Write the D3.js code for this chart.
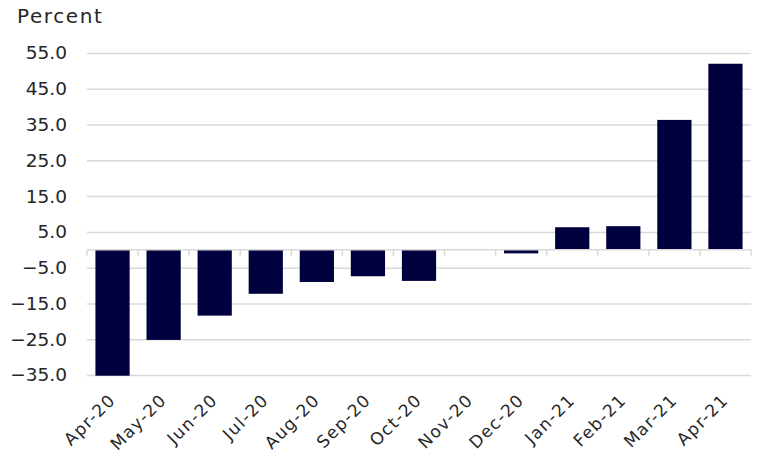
<!DOCTYPE html>
<html>
<head>
<meta charset="utf-8">
<script src="https://cdn.jsdelivr.net/npm/d3@7"></script>
<style>
  body { margin: 0; background: #fff; }
  svg text { font-family: "DejaVu Sans", sans-serif; fill: #262626; }
</style>
</head>
<body>
<svg id="chart" width="758" height="457"></svg>
<script>
const months = ["Apr-20", "May-20", "Jun-20", "Jul-20", "Aug-20", "Sep-20", "Oct-20",
  "Nov-20", "Dec-20", "Jan-21", "Feb-21", "Mar-21", "Apr-21"];
const values = [-35.2, -25.2, -18.4, -12.3, -9.0, -7.4, -8.7, 0.0, -1.0, 6.3, 6.6, 36.3, 52.0];
const yTicks = [-35, -25, -15, -5, 5, 15, 25, 35, 45, 55];

const svg = d3.select("#chart"),
  margin = { top: 53, left: 87, right: 7, bottom: 82 },
  width = +svg.attr("width"),
  height = +svg.attr("height");

const x = d3.scaleBand()
  .domain(months)
  .range([margin.left, width - margin.right])
  .paddingInner(0.33)
  .paddingOuter(0.165);

const y = d3.scaleLinear()
  .domain([-35, 55])
  .range([height - margin.bottom, margin.top]);

// gridlines + y labels
const yAxis = svg.append("g")
  .attr("transform", "translate(" + margin.left + ",0)")
  .call(d3.axisLeft(y).tickValues(yTicks)
    .tickSize(-(width - margin.left - margin.right))
    .tickFormat(d3.format(".1f"))
    .tickPadding(20));
yAxis.select(".domain").remove();
yAxis.selectAll(".tick line").attr("stroke", "#d9d9d9").attr("stroke-width", 1.5);
yAxis.selectAll(".tick text")
  .style("font-size", "18.5px")
  .attr("fill", "#262626");

svg.append("text")
  .attr("x", 17)
  .attr("y", 23)
  .style("font-size", "20px")
  .style("letter-spacing", "1.6px")
  .text("Percent");

// bars
svg.append("g")
  .selectAll("rect")
  .data(values)
  .enter()
  .append("rect")
  .attr("x", (d, i) => x(months[i]))
  .attr("width", x.bandwidth())
  .attr("y", (d) => y(Math.max(0, d)))
  .attr("height", (d) => Math.abs(y(d) - y(0)))
  .attr("fill", "#00003f");

// zero axis with category ticks between bands
const step = x.step();
const x0 = x.range()[0];
const axisG = svg.append("g");
axisG.append("line")
  .attr("x1", x0).attr("x2", width - margin.right)
  .attr("y1", y(0)).attr("y2", y(0))
  .attr("stroke", "#d9d9d9").attr("stroke-width", 1.5);
axisG.selectAll("line.tk")
  .data(d3.range(months.length + 1))
  .enter()
  .append("line")
  .attr("class", "tk")
  .attr("x1", (i) => x0 + i * step)
  .attr("x2", (i) => x0 + i * step)
  .attr("y1", y(0))
  .attr("y2", y(0) + 6)
  .attr("stroke", "#d9d9d9").attr("stroke-width", 1.5);

// rotated month labels
svg.append("g")
  .selectAll("text")
  .data(months)
  .enter()
  .append("text")
  .attr("transform", (d) => "translate(" + (x(d) + x.bandwidth() / 2 + 4) + "," + (height - margin.bottom + 26) + ") rotate(-45)")
  .attr("text-anchor", "end")
  .style("font-size", "17px")
  .style("letter-spacing", "1.4px")
  .text((d) => d);
</script>
</body>
</html>
